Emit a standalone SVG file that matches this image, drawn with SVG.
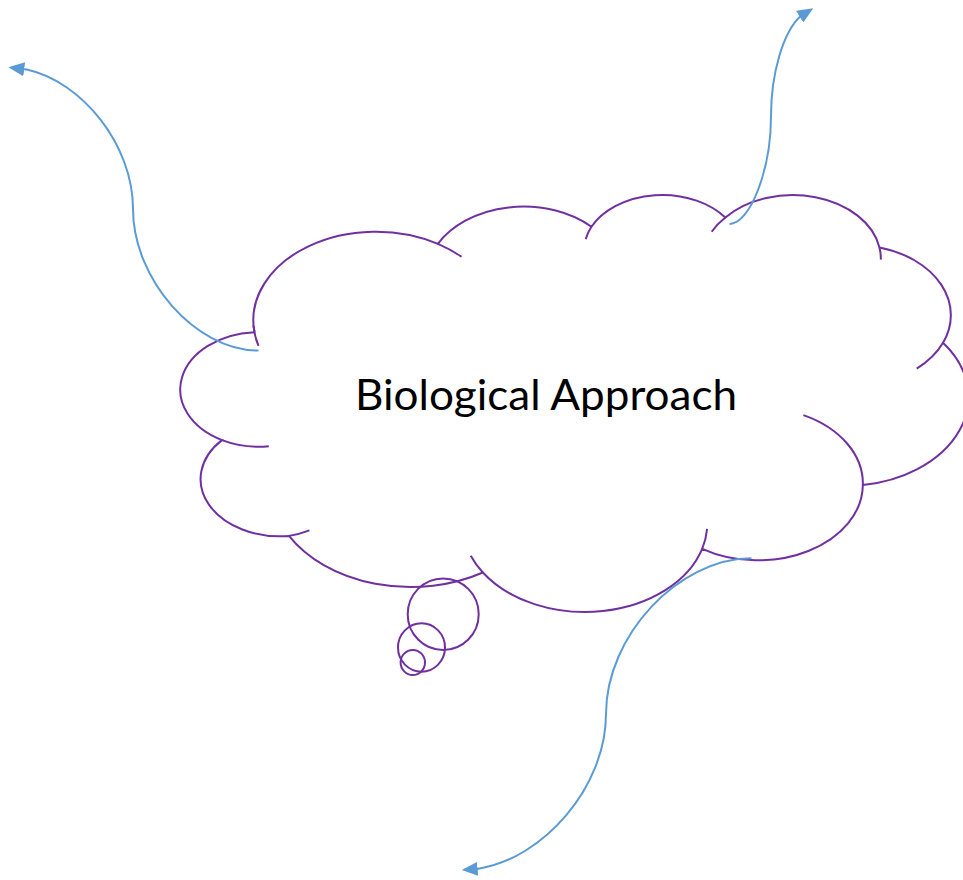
<svg xmlns="http://www.w3.org/2000/svg" width="963" height="880" viewBox="0 0 963 880">
  <style>
    .outline { fill: none; stroke: #7030A0; stroke-width: 2; vector-effect: non-scaling-stroke; }
    .bubble { fill: none; stroke: #7030A0; stroke-width: 2; }
    .conn { fill: none; stroke: #5B9BD5; stroke-width: 2; marker-end: url(#arrow); }
    .label { font-family: Lato, "Open Sans", "Liberation Sans", sans-serif; font-size: 42px; fill: #000000; }
  </style>
  <defs>
    <marker id="arrow" markerUnits="userSpaceOnUse" markerWidth="16" markerHeight="14" viewBox="0 0 16 14" refX="13" refY="7" orient="auto">
      <path d="M0,0 L16,7 L0,14 z" fill="#5B9BD5"/>
    </marker>
  </defs>
  <rect x="0" y="0" width="963" height="880" fill="#FFFFFF"/>

  <g id="cloud">
    <g transform="translate(183.6,193.6) scale(0.01816,0.00965)">
      <path class="outline" d="M3900,14370 A6753,9190 0 0 1 14005,5202 A5333,7267 0 0 1 22456,3432 A4365,5945 0 0 1 29833,2481 A4857,6595 0 0 1 38318,5576 A5333,7273 0 0 1 41818,15460 A6775,9220 0 0 1 37404,30203 A5785,7867 0 0 1 28556,36813 A6752,9215 0 0 1 16480,39264 A7720,10543 0 0 1 5805,35470 A4360,5918 0 0 1 2113,25548 A4345,5945 0 0 1 3900,14370"/>
      <path class="outline" d="M4693,26177 A4345,5945 0 0 1 2113,25548 M6928,34899 A4360,5918 0 0 1 5805,35470 M16480,39264 A6752,9215 0 0 1 15812,37524 M28827,34751 A6752,9215 0 0 1 28556,36813 M34129,22954 A5785,7867 0 0 1 37404,30203 M41818,15460 A5333,7273 0 0 1 40370,18135 M38318,5576 A4857,6595 0 0 1 38394,6840 M29078,3952 A4857,6595 0 0 1 29833,2481 M22141,4720 A4365,5945 0 0 1 22456,3432 M14005,5202 A6753,9190 0 0 1 15305,6550 M4127,15789 A6753,9190 0 0 1 3850,13667"/>
    </g>
    <text class="label" x="355" y="410" textLength="382" lengthAdjust="spacingAndGlyphs">Biological Approach</text>
  </g>

  <g id="thought-bubbles">
    <ellipse class="bubble" cx="443.2" cy="614.2" rx="35.5" ry="35.8"/>
    <ellipse class="bubble" cx="421.5" cy="647.5" rx="23.5" ry="24.2"/>
    <ellipse class="bubble" cx="412.8" cy="662.5" rx="12.2" ry="12.5"/>
  </g>

  <g id="connectors">
    <path class="conn" d="M258.5,350.5 C195.5,350.5 133,279.4 133,208.75 C133,145.4 82.4,81.7 26.7,69.6 L11.3,67.7"/>
    <path class="conn" d="M729.5,224 C750,224 771,170 771,116 C771,74 783,32 800.7,16 L810.7,9.9"/>
    <path class="conn" d="M751.5,558.3 C678.5,558.3 606,636 606,714 C606,786.5 543.7,859.1 477.1,868.9 L464.7,869.8"/>
  </g>
</svg>
